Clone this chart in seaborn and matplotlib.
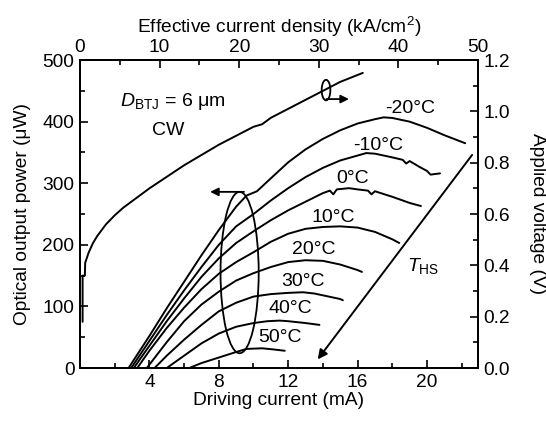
"""L-I-V curves of a BTJ VCSEL at different heat-sink temperatures."""

import matplotlib
matplotlib.use("Agg")
import matplotlib.pyplot as plt
from matplotlib.patches import Ellipse
import pandas as pd
import seaborn as sns

# ---- data ----
TEMPS = ["-20°C", "-10°C", "0°C", "10°C", "20°C", "30°C", "40°C", "50°C"]

I_M20 = [2.8, 4, 5, 6, 7, 8, 9, 9.6, 10.2, 11, 12, 13, 14, 15, 16, 17, 17.5, 18, 19, 20, 21, 22.2]
P_M20 = [0, 52, 97, 140, 183, 224, 262, 280, 287, 308, 334, 355, 372, 386, 397, 404, 407, 406, 400, 390, 378, 365]

I_M10 = [2.95, 4, 5, 6, 7, 8, 9, 10, 11, 12, 13, 14, 15, 16, 16.5, 17, 18, 18.6, 18.8, 19, 19.6, 20, 20.2, 20.75]
P_M10 = [0, 44, 86, 126, 164, 200, 230, 250, 272, 292, 310, 325, 337, 345, 349, 348, 342, 338, 332, 336, 326, 320, 314, 316]

I_0 = [3.1, 4, 5, 6, 7, 8, 9, 10, 11, 12, 13, 14, 14.4, 14.6, 14.8, 15.5, 16, 16.6, 16.8, 17, 18, 19, 19.65]
P_0 = [0, 36, 76, 113, 148, 178, 203, 222, 240, 256, 270, 284, 288, 282, 290, 292, 290, 288, 282, 287, 278, 268, 263]

I_10 = [3.3, 4, 5, 6, 7, 8, 9, 10, 11, 12, 13, 14, 15, 16, 17, 18, 18.4]
P_10 = [0, 28, 65, 98, 128, 153, 172, 188, 205, 218, 226, 229, 230, 228, 221, 209, 203]

I_20 = [3.85, 5, 6, 7, 8, 9, 10, 11, 12, 13, 14, 15, 16, 16.25]
P_20 = [0, 42, 76, 103, 124, 142, 154, 164, 172, 175, 174, 168, 159, 156]

I_30 = [4.3, 5, 6, 7, 8, 9, 10, 11, 12, 12.85, 13.5, 14, 15, 15.15]
P_30 = [0, 20, 46, 70, 92, 106, 116, 120, 122, 123, 121, 118, 112, 110]

I_40 = [5, 6, 7, 8, 9, 10, 10.8, 11.5, 12, 13, 13.8]
P_40 = [0, 20, 40, 56, 67, 73, 76, 77, 76, 73, 70]

I_50 = [6.3, 7, 8, 9, 9.6, 10.5, 11.2, 11.8]
P_50 = [0, 8, 17, 26, 31, 32, 30, 28]

VOLT_I = [0.15, 0.15, 0.28, 0.3, 0.5, 0.75, 1.0, 1.5, 2, 2.5, 3, 4, 5, 6, 7, 8, 9, 10, 10.5, 11, 12, 13, 14, 15, 16.3]
VOLT_V = [0.18, 0.36, 0.36, 0.41, 0.45, 0.487, 0.515, 0.56, 0.595, 0.625, 0.65, 0.70, 0.745, 0.79, 0.83, 0.87,
          0.905, 0.94, 0.95, 0.975, 1.01, 1.045, 1.08, 1.115, 1.15]

CURRENTS = [I_M20, I_M10, I_0, I_10, I_20, I_30, I_40, I_50]
POWERS = [P_M20, P_M10, P_0, P_10, P_20, P_30, P_40, P_50]

X_MAX = 22.94          # mA at right edge
J_PER_MA = 50 / X_MAX  # kA/cm^2 per mA (top axis)

# temperature label anchor points (mA, uW)
LABEL_XY = [(19.0, 422), (17.2, 362), (15.7, 308), (14.6, 245),
            (13.5, 193), (12.85, 140), (12.1, 97), (11.5, 49)]

FS = 13.8

sns.set_theme(style="ticks", rc={
    "axes.edgecolor": "black",
    "axes.labelcolor": "black",
    "text.color": "black",
    "xtick.color": "black",
    "ytick.color": "black",
    "axes.linewidth": 1.3,
    "xtick.direction": "in",
    "ytick.direction": "in",
    "xtick.major.size": 5.5,
    "ytick.major.size": 5.5,
    "xtick.minor.size": 3.5,
    "ytick.minor.size": 3.5,
    "xtick.major.width": 1.2,
    "ytick.major.width": 1.2,
    "xtick.minor.width": 1.2,
    "ytick.minor.width": 1.2,
})
plt.rcParams["font.family"] = ["Liberation Sans", "DejaVu Sans"]
plt.rcParams["font.size"] = FS
plt.rcParams["mathtext.fontset"] = "custom"
plt.rcParams["mathtext.rm"] = "Liberation Sans"
plt.rcParams["mathtext.it"] = "Liberation Sans:italic"

li_df = pd.concat(
    [pd.DataFrame({"current": i, "power": p, "temp": t}) for t, i, p in zip(TEMPS, CURRENTS, POWERS)],
    ignore_index=True,
)

fig = plt.figure(figsize=(5.46, 4.23), dpi=100)
ax = fig.add_axes([0.1465, 0.130, 0.729, 0.728])

sns.lineplot(data=li_df, x="current", y="power", hue="temp", palette={t: "black" for t in TEMPS},
             estimator=None, sort=False, legend=False, lw=1.4, ax=ax)

ax.set_xlim(0, X_MAX)
ax.set_ylim(0, 500)
ax.set_xticks([4, 8, 12, 16, 20])
ax.set_xticks([2, 6, 10, 14, 18, 22], minor=True)
ax.set_yticks(range(0, 501, 100))
ax.set_yticks(range(50, 500, 100), minor=True)
ax.set_xlabel("Driving current (mA)", fontsize=FS, labelpad=1)
ax.set_ylabel("Optical output power (μW)", fontsize=FS, labelpad=8)
ax.tick_params(labelsize=FS, pad=4)
ax.tick_params(axis="x", which="both", top=False)

# voltage on right axis
ax2 = ax.twinx()
sns.lineplot(x=VOLT_I, y=VOLT_V, color="black", estimator=None, sort=False, lw=1.4, ax=ax2)
ax2.set_ylim(0, 1.2)
ax2.set_yticks([0.0, 0.2, 0.4, 0.6, 0.8, 1.0, 1.2])
ax2.set_yticklabels(["0.0", "0.2", "0.4", "0.6", "0.8", "1.0", "1.2"])
ax2.set_yticks([0.1, 0.3, 0.5, 0.7, 0.9, 1.1], minor=True)
ax2.set_ylabel("Applied voltage (V)", fontsize=FS, rotation=270, labelpad=26)
ax2.tick_params(labelsize=FS, pad=4)

# top axis: effective current density
secax = ax.secondary_xaxis("top", functions=(lambda x: x * J_PER_MA, lambda j: j / J_PER_MA))
secax.set_xticks(range(0, 51, 10))
secax.set_xticks(range(5, 50, 10), minor=True)
secax.tick_params(which="both", direction="in", labelsize=FS, pad=3)
secax.set_xlabel("Effective current density (kA/cm$^2$)", fontsize=FS, labelpad=4)

# annotations
for t, (x, y) in zip(TEMPS, LABEL_XY):
    ax.text(x, y, t, ha="center", va="center", fontsize=14)

ax.text(2.3, 432, r"$\mathit{D}_\mathrm{BTJ}$ = 6 μm", ha="left", va="center", fontsize=14)
ax.text(5.07, 386, "CW", ha="center", va="center", fontsize=14)
ax.text(19.8, 165, r"$\mathit{T}_\mathrm{HS}$", ha="center", va="center", fontsize=14)

ax.add_patch(Ellipse((9.2, 155), 2.2, 262, fill=False, lw=1.3, ec="black"))
ax.annotate("", xy=(7.5, 286), xytext=(9.45, 286),
            arrowprops=dict(arrowstyle="-|>", lw=1.3, color="black", mutation_scale=12, shrinkA=0, shrinkB=0))
ax.annotate("", xy=(13.7, 14), xytext=(22.6, 346),
            arrowprops=dict(arrowstyle="-|>", lw=1.4, color="black", mutation_scale=14, shrinkA=0, shrinkB=0))

ax2.add_patch(Ellipse((14.18, 1.083), 0.5, 0.08, fill=False, lw=1.3, ec="black"))
ax2.annotate("", xy=(15.5, 1.048), xytext=(14.2, 1.048),
             arrowprops=dict(arrowstyle="-|>", lw=1.3, color="black", mutation_scale=12, shrinkA=0, shrinkB=0))

fig.savefig("out.png", dpi=100, facecolor="white")
